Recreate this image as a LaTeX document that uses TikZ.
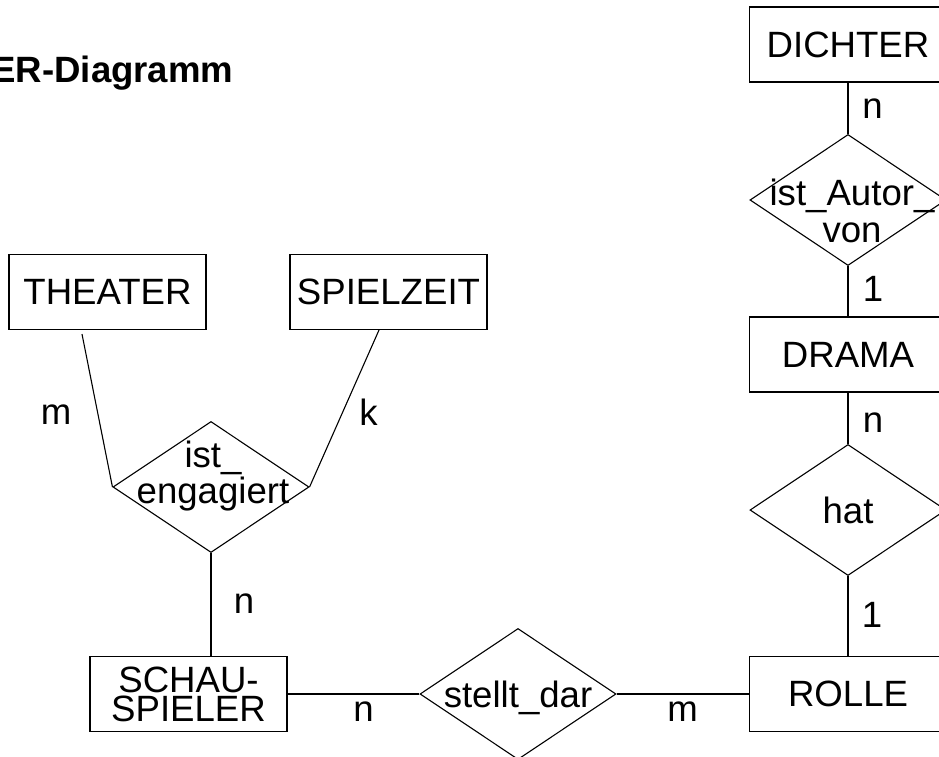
\documentclass[tikz,border=0pt]{standalone}
\usepackage{fontspec}
\setmainfont{Liberation Sans}
\usetikzlibrary{shapes.geometric}

\begin{document}
\begin{tikzpicture}[x=1pt,y=-1pt,line width=1.1pt,font=\fontsize{36.6}{40}\selectfont,
    entity/.style={draw,rectangle,minimum width=197pt,minimum height=75pt,inner sep=0pt,align=center},
    relation/.style={draw,diamond,minimum width=196pt,minimum height=131pt,inner sep=0pt},
    reltext/.style={inner sep=0pt,align=center},
    card/.style={inner sep=0pt}]
    \useasboundingbox (0,0) rectangle (939,757);

    \node[anchor=base east,inner sep=0pt,font=\fontsize{36.6}{40}\selectfont\bfseries] (titel) at (234,83) {ER-Diagramm};

    % Entitaeten
    \node[entity] (dichter) at (848,44.5) {DICHTER};
    \node[entity] (drama) at (848,354.5) {DRAMA};
    \node[entity] (rolle) at (848,694) {ROLLE};
    \node[entity] (theater) at (107.5,292) {THEATER};
    \node[entity] (spielzeit) at (388.5,292) {SPIELZEIT};
    \node[entity,font=\fontsize{36.6}{29}\selectfont] (schau) at (188.5,694) {SCHAU-\\SPIELER};

    % Beziehungen
    \node[relation] (autor) at (848,200) {};
    \node[relation] (hat) at (848,510) {};
    \node[relation] (engagiert) at (211,487) {};
    \node[relation] (stellt) at (518,694) {};

    \node[reltext,font=\fontsize{36.6}{37}\selectfont] (autortext) at (852,210.5) {ist\_Autor\_\\von};
    \node[reltext,anchor=base] (hattext) at (848,523) {hat};
    \node[reltext,font=\fontsize{36.6}{36}\selectfont] (engtext) at (213,476) {ist\_\\engagiert};
    \node[reltext,anchor=base] (stellttext) at (518,707) {stellt\_dar};

    \draw (dichter) -- (autor);
    \draw (autor) -- (drama);
    \draw (drama) -- (hat);
    \draw (hat) -- (rolle);
    \draw (schau) -- (stellt);
    \draw (stellt) -- (rolle);
    \draw (engagiert.south) -- (engagiert.south |- schau.north);
    \draw ([xshift=-25.5pt,yshift=-4pt]theater.south) -- (engagiert.west);
    \draw ([xshift=-9.5pt]spielzeit.south) -- (engagiert.east);

    % Kardinalitaeten
    \node[card] (cDichter) at (872.5,109) {n};
    \node[card] (cAutor) at (873,289) {1};
    \node[card] (cDrama) at (873,423) {n};
    \node[card] (cRolle) at (872,615) {1};
    \node[card] (cTheater) at (56,415) {m};
    \node[card] (cSpielzeit) at (368.5,412) {k};
    \node[card] (cSchau) at (244,604) {n};
    \node[card] (cSchauStellt) at (363.5,712) {n};
    \node[card] (cStelltRolle) at (682.5,712) {m};
\end{tikzpicture}
\end{document}
